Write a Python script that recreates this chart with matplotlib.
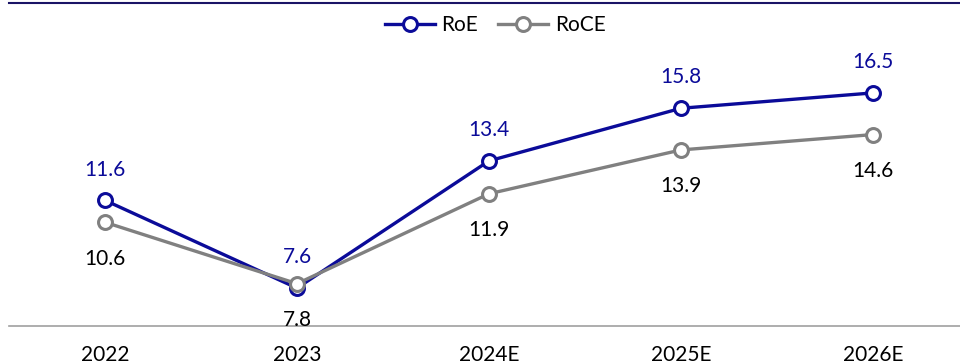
import matplotlib.pyplot as plt

years = ['2022', '2023', '2024E', '2025E', '2026E']
roe = [11.6, 7.6, 13.4, 15.8, 16.5]
roce = [10.6, 7.8, 11.9, 13.9, 14.6]

navy = '#0B0B99'
grey = '#808080'

plt.rcParams['font.family'] = ['Lato', 'DejaVu Sans']

fig = plt.figure(figsize=(9.6, 3.64), dpi=100, facecolor='w')
ax = fig.add_axes([9 / 960, 38 / 364, 1.0, 323 / 364])

x = list(range(len(years)))
ax.plot(x, roe, '-o', color=navy, lw=2.4, ms=10, mfc='white', mec=navy, mew=2.2,
        label='RoE', zorder=3)
ax.plot(x, roce, '-o', color=grey, lw=2.4, ms=10, mfc='white', mec=grey, mew=2.2,
        label='RoCE', zorder=3)

for i, v in enumerate(roe):
    ax.annotate('%.1f' % v, (i, v), xytext=(0, 15), textcoords='offset points',
                ha='center', va='bottom', color=navy, fontsize=15)
for i, v in enumerate(roce):
    ax.annotate('%.1f' % v, (i, v), xytext=(0, -19), textcoords='offset points',
                ha='center', va='top', color='black', fontsize=15)

ax.set_xlim(-0.5, 4.5)
ax.set_ylim(5.87, 20.6)
ax.set_xticks(x)
ax.set_xticklabels(years, fontsize=15)
ax.tick_params(axis='x', length=0, pad=14)
ax.set_yticks([])

for side in ['left', 'right']:
    ax.spines[side].set_visible(False)
ax.spines['top'].set_color('#1A1466')
ax.spines['top'].set_linewidth(1.5)
ax.spines['bottom'].set_color('#A0A0A0')
ax.spines['bottom'].set_linewidth(1.2)

leg = fig.legend(loc='center', bbox_to_anchor=(495 / 960, 1 - 25 / 364), ncol=2,
                 frameon=False, fontsize=15, handlelength=2.4, columnspacing=1.0,
                 handletextpad=0.3)

plt.savefig('out.png', dpi=100)
